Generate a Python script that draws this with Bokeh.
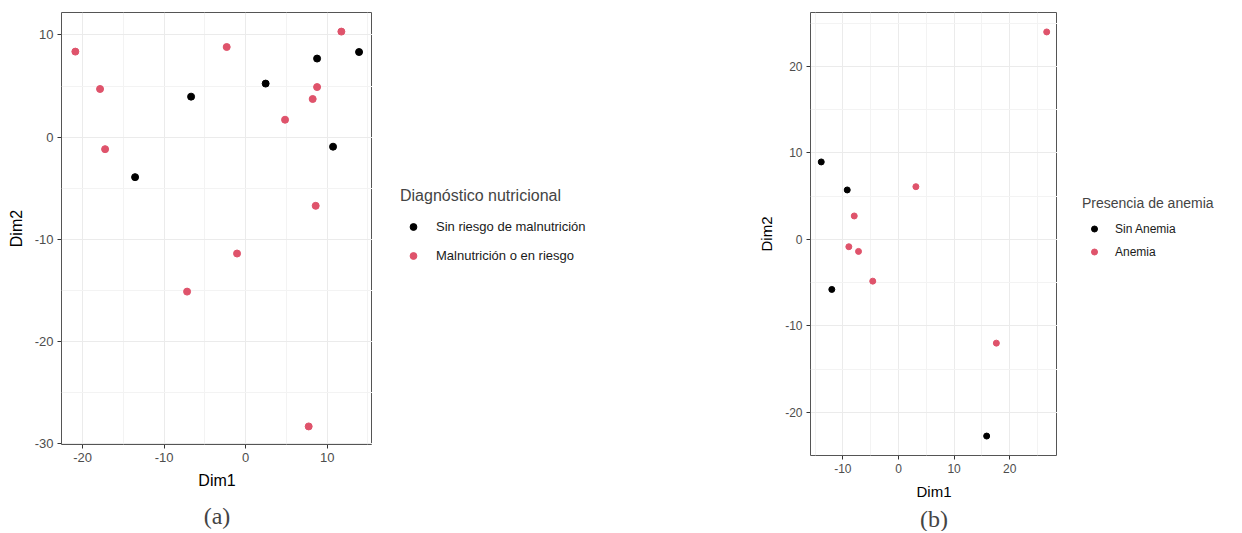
from bokeh.plotting import figure
from bokeh.models import Range1d, FixedTicker, Legend, LegendItem, Title, PrintfTickFormatter
from bokeh.layouts import row
from bokeh.embed import file_html
from bokeh.resources import INLINE

# ---- data (a) ----
a_labels = ["Sin riesgo de malnutrición", "Malnutrición o en riesgo"]
a_sin_dim1 = [-13.57, -6.7, 2.45, 8.76, 13.91, 10.72]
a_sin_dim2 = [-3.92, 3.96, 5.24, 7.69, 8.33, -0.94]
a_mal_dim1 = [-20.9, -17.87, -17.25, -2.33, 4.83, 8.22, 8.76, 11.74, 8.59, -1.06, -7.19, 7.73]
a_mal_dim2 = [8.37, 4.71, -1.18, 8.82, 1.7, 3.73, 4.9, 10.33, -6.73, -11.4, -15.13, -28.33]
a_xticks = [-20, -10, 0, 10]
a_xminor = [-15, -5, 5, 15]
a_yticks = [-30, -20, -10, 0, 10]
a_yminor = [-25, -15, -5, 5]

# ---- data (b) ----
b_labels = ["Sin Anemia", "Anemia"]
b_sin_dim1 = [-13.88, -9.21, -11.98, 15.85]
b_sin_dim2 = [8.96, 5.72, -5.79, -22.75]
b_an_dim1 = [-7.95, -8.92, -7.18, 3.13, 26.64, -4.62, 17.59]
b_an_dim2 = [2.71, -0.85, -1.39, 6.1, 24.0, -4.83, -12.0]
b_xticks = [-10, 0, 10, 20]
b_xminor = [-15, -5, 5, 15, 25]
b_yticks = [-20, -10, 0, 10, 20]
b_yminor = [-25, -15, -5, 5, 15, 25]

BLACK = "#000000"
RED = "#DF536B"
FONT = "Liberation Sans"


def make_panel(fw, fh, mb_left, mb_top, mb_bottom, xr, yr, xt, xm, yt, ym, tick_fs, lab_fs):
    p = figure(frame_width=fw, frame_height=fh, x_range=Range1d(*xr), y_range=Range1d(*yr),
               output_backend="svg", toolbar_location=None,
               min_border_left=mb_left, min_border_right=0,
               min_border_top=mb_top, min_border_bottom=mb_bottom,
               x_axis_label="Dim1", y_axis_label="Dim2")
    p.outline_line_color = "#555555"
    p.outline_line_width = 1
    p.background_fill_color = "white"
    p.border_fill_color = "white"
    p.xaxis.ticker = FixedTicker(ticks=xt, minor_ticks=xm)
    p.yaxis.ticker = FixedTicker(ticks=yt, minor_ticks=ym)
    for ax in (p.xaxis, p.yaxis):
        ax.formatter = PrintfTickFormatter(format="%d")
        ax.axis_line_color = None
        ax.major_tick_line_color = "#333333"
        ax.major_tick_out = 4
        ax.major_tick_in = 0
        ax.minor_tick_line_color = None
        ax.major_label_text_font = FONT
        ax.major_label_text_font_size = tick_fs
        ax.major_label_text_color = "#4D4D4D"
        ax.axis_label_text_font = FONT
        ax.axis_label_text_font_size = lab_fs
        ax.axis_label_text_font_style = "normal"
        ax.axis_label_text_color = "black"
        ax.major_label_standoff = 4
        ax.axis_label_standoff = 7
    for g in (p.xgrid, p.ygrid):
        g.grid_line_color = "#EBEBEB"
        g.grid_line_width = 1
        g.minor_grid_line_color = "#F3F3F3"
        g.minor_grid_line_width = 1
    return p


def make_legend_fig(width, height, title, labels, series, colors, size, loc,
                    gw, gh, spacing, standoff, title_standoff, title_fs, label_fs):
    # The legend lives in its own figure; its swatch renderers reuse the real
    # series but the view range lies far away, so only the legend is visible.
    f = figure(width=width, height=height, x_range=Range1d(1000, 1001), y_range=Range1d(1000, 1001),
               output_backend="svg", toolbar_location=None,
               x_axis_location=None, y_axis_location=None,
               min_border_left=0, min_border_right=0, min_border_top=0, min_border_bottom=0)
    f.outline_line_color = None
    f.xgrid.visible = False
    f.ygrid.visible = False
    items = []
    for lab, (xs, ys), col in zip(labels, series, colors):
        r = f.scatter(x=xs, y=ys, size=size, color=col)
        items.append(LegendItem(label=lab, renderers=[r]))
    leg = Legend(items=items, title=title, location=loc,
                 margin=0, padding=0, border_line_color=None, background_fill_color=None,
                 glyph_width=gw, glyph_height=gh, label_height=gh, spacing=spacing,
                 label_standoff=standoff, title_standoff=title_standoff,
                 title_text_font=FONT, title_text_font_size=title_fs, title_text_font_style="normal",
                 label_text_font=FONT, label_text_font_size=label_fs, label_text_color="#1A1A1A")
    f.add_layout(leg)
    return f


# ---- panel (a) ----
pa = make_panel(311, 432, 61, 12, 86, (-22.6, 15.56), (-30.1, 12.2),
                a_xticks, a_xminor, a_yticks, a_yminor, "13px", "16px")
pa.scatter(a_sin_dim1, a_sin_dim2, size=7, color=BLACK)
pa.scatter(a_mal_dim1, a_mal_dim2, size=7, color=RED)
pa.add_layout(Title(text="(a)", align="center", text_font="Liberation Serif",
                    text_font_size="24px", text_font_style="normal", standoff=18), "below")
la = make_legend_fig(336, 500, "Diagnóstico nutricional", a_labels,
                     [(a_sin_dim1, a_sin_dim2), (a_mal_dim1, a_mal_dim2)], [BLACK, RED], 7,
                     (28, 143), 26, 17, 12, 10, 13, "16px", "13px")

# ---- panel (b) ----
pb = make_panel(247, 443, 102, 8, 80, (-15.81, 28.58), (-25.0, 26.25),
                b_xticks, b_xminor, b_yticks, b_yminor, "12px", "15px")
pb.scatter(b_sin_dim1, b_sin_dim2, size=6, color=BLACK)
pb.scatter(b_an_dim1, b_an_dim2, size=6, color=RED)
pb.add_layout(Title(text="(b)", align="center", text_font="Liberation Serif",
                    text_font_size="24px", text_font_style="normal", standoff=3), "below")
lb = make_legend_fig(170, 500, "Presencia de anemia", b_labels,
                     [(b_sin_dim1, b_sin_dim2), (b_an_dim1, b_an_dim2)], [BLACK, RED], 6,
                     (25, 148), 24, 15, 8, 9, 10, "14px", "12px")

layout = row(pa, la, pb, lb)
open("out.html", "w").write(file_html(layout, INLINE))
